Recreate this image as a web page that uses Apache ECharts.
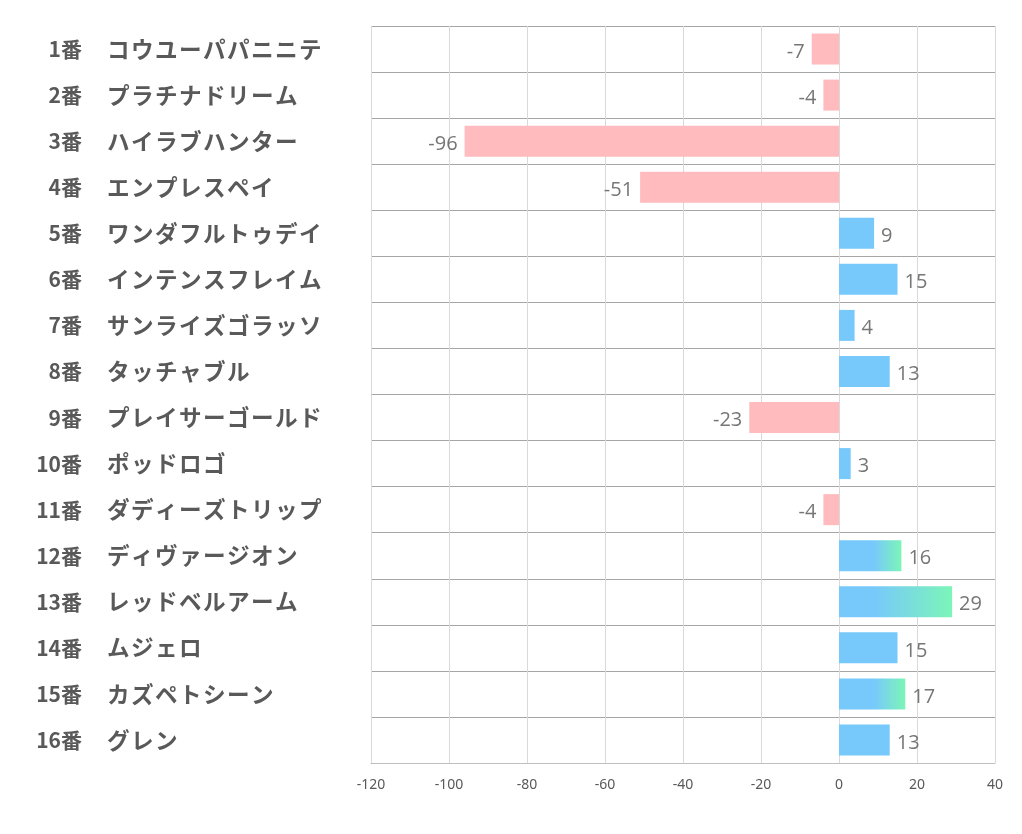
<!DOCTYPE html>
<html><head><meta charset="utf-8">
<script src="https://cdn.jsdelivr.net/npm/echarts@6/dist/echarts.min.js"></script>
<style>html,body{margin:0;padding:0;background:#fff}#c{width:1022px;height:834px}</style>
</head><body><div id="c"></div>
<script>
const numbers = ['1番','2番','3番','4番','5番','6番','7番','8番','9番','10番','11番','12番','13番','14番','15番','16番'];
const names = ['コウユーパパニニテ','プラチナドリーム','ハイラブハンター','エンプレスペイ','ワンダフルトゥデイ','インテンスフレイム','サンライズゴラッソ','タッチャブル','プレイサーゴールド','ポッドロゴ','ダディーズトリップ','ディヴァージオン','レッドベルアーム','ムジェロ','カズペトシーン','グレン'];
const values = [-7,-4,-96,-51,9,15,4,13,-23,3,-4,16,29,15,17,13];
const xTicks = {min:-120, max:40, interval:20};

const PINK = '#FFBBBE', BLUE = '#77C9FB', GREEN = '#7CF5B8';
const data = values.map(v => {
  let color;
  if (v < 0) color = PINK;
  else if (v > 15) color = {type:'linear', x:0, y:0, x2:1, y2:0, colorStops:[
      {offset:0, color:BLUE},{offset:Math.min(0.95, 9/v), color:BLUE},{offset:1, color:GREEN}]};
  else color = BLUE;
  return {value:v, itemStyle:{color}, label:{position: v < 0 ? 'left' : 'right'}};
});

const chart = echarts.init(document.getElementById('c'));
chart.setOption({
  animation:false,
  grid:{left:371, right:27, top:26, bottom:71},
  xAxis:{type:'value', min:xTicks.min, max:xTicks.max, interval:xTicks.interval,
    axisLine:{show:true, lineStyle:{color:'#bfbfbf', width:1}}, axisTick:{show:false},
    axisLabel:{color:'#595959', fontSize:14, fontFamily:"'Liberation Sans Narrow','Noto Sans',sans-serif", margin:15},
    splitLine:{show:true, lineStyle:{color:'#d9d9d9', width:1}}},
  yAxis:[
    {type:'category', data:numbers, inverse:true, position:'left',
     axisLine:{show:false}, axisTick:{show:false},
     axisLabel:{color:'#595959', fontSize:21, fontWeight:'bold', fontFamily:"'Noto Sans CJK JP',sans-serif", margin:289, align:'right'},
     splitLine:{show:true, lineStyle:{color:'#a6a6a6', width:1}}},
    {type:'category', data:names, inverse:true, position:'left',
     axisLine:{show:false}, axisTick:{show:false},
     axisLabel:{color:'#595959', fontSize:22.6, fontWeight:'bold', fontFamily:"'Noto Sans CJK JP',sans-serif", margin:264, align:'left',
       formatter: s => s.split('').join('\u200A')},
     splitLine:{show:false}}
  ],
  series:[{type:'bar', data:data, barWidth:31, yAxisIndex:0,
    label:{show:true, color:'#767676', fontSize:20, fontFamily:"'Open Sans','Noto Sans',sans-serif", distance:7, offset:[0,3]}}]
});
</script></body></html>
